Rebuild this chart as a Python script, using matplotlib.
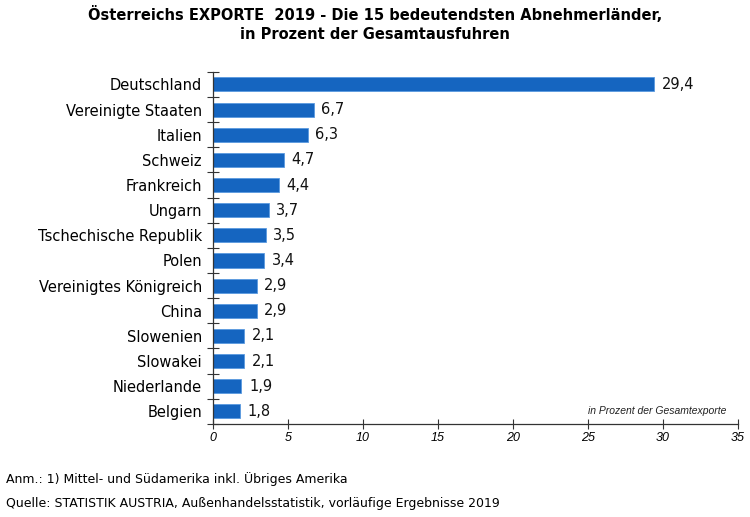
import matplotlib
matplotlib.use("Agg")
import matplotlib.pyplot as plt
import numpy as np

countries = ["Deutschland", "Vereinigte Staaten", "Italien", "Schweiz", "Frankreich",
             "Ungarn", "Tschechische Republik", "Polen", "Vereinigtes Königreich",
             "China", "Slowenien", "Slowakei", "Niederlande", "Belgien"]
shares = [29.4, 6.7, 6.3, 4.7, 4.4, 3.7, 3.5, 3.4, 2.9, 2.9, 2.1, 2.1, 1.9, 1.8]
xticks = [0, 5, 10, 15, 20, 25, 30, 35]

plt.rcParams['font.family'] = ['DejaVu Sans']

fig = plt.figure(figsize=(7.5, 5.17), dpi=100)
ax = fig.add_axes([0.284, 0.180, 0.700, 0.681])

y = np.arange(len(countries))
ax.barh(y, shares, height=0.56, color='#1565C0', edgecolor='#5A9AE0', linewidth=0.6)
for yi, v in zip(y, shares):
    ax.text(v + 0.5, yi, f"{v:.1f}".replace(".", ","), va='center', ha='left',
            fontsize=10.5, color='#111111')

ax.set_ylim(len(countries) - 0.5, -0.5)
ax.set_xlim(0, 35)
ax.set_yticks(y)
ax.set_yticklabels(countries, fontsize=10.5)
ax.tick_params(axis='y', length=0, pad=8)
ax.set_yticks(np.arange(-0.5, len(countries), 1), minor=True)
ax.tick_params(axis='y', which='minor', direction='inout', length=8, width=0.8, color='#333333')

ax.set_xticks(xticks)
ax.set_xticklabels([str(t) for t in xticks], fontsize=9, style='italic', family='Liberation Sans')
ax.tick_params(axis='x', direction='inout', length=7, width=0.8, color='#333333', pad=2)

for s in ['top', 'right']:
    ax.spines[s].set_visible(False)
for s in ['left', 'bottom']:
    ax.spines[s].set_color('#333333')
    ax.spines[s].set_linewidth(0.9)

ax.text(34.2, 13.0, "in Prozent der Gesamtexporte", ha='right', va='center',
        fontsize=7.5, style='italic', family='Liberation Sans', color='#222222')

fig.text(0.50, 0.988, "Österreichs EXPORTE  2019 - Die 15 bedeutendsten Abnehmerländer,\nin Prozent der Gesamtausfuhren",
         ha='center', va='top', fontsize=10.5, fontweight='bold', linespacing=1.3)

fig.text(0.008, 0.073, "Anm.: 1) Mittel- und Südamerika inkl. Übriges Amerika", fontsize=9, va='center')
fig.text(0.008, 0.027, "Quelle: STATISTIK AUSTRIA, Außenhandelsstatistik, vorläufige Ergebnisse 2019",
         fontsize=9, va='center')

fig.savefig("out.png", dpi=100)
